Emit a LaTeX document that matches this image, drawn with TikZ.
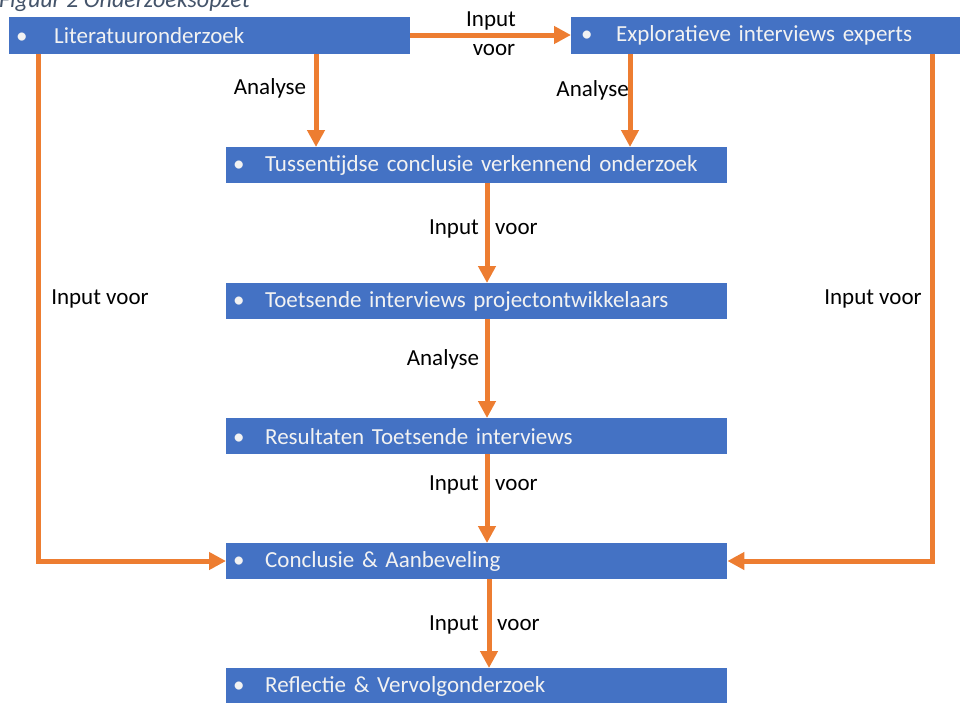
\documentclass[tikz,border=0pt]{standalone}
\usepackage{fontspec}
\setmainfont{Carlito}
\usetikzlibrary{arrows.meta}
\definecolor{boxblue}{HTML}{4472C4}
\definecolor{arrorange}{HTML}{ED7D31}
\definecolor{captgray}{HTML}{44546A}
\definecolor{boxtext}{HTML}{F2F2F2}
\tikzset{
  box/.style={fill=boxblue, draw=none, anchor=north west, inner ysep=0pt,
    text=boxtext, font=\fontsize{23}{26}\selectfont, align=left},
  flow/.style={draw=arrorange, line width=5pt,
    -{Triangle[length=17pt,width=17pt]}},
  lbl/.style={font=\fontsize{23}{26}\selectfont, text=black, inner sep=0pt},
}
\newcommand{\bul}[1]{\makebox[#1pt][l]{•}}
\begin{document}
\begin{tikzpicture}[x=1pt,y=-1pt]
\useasboundingbox (0,0) rectangle (960,702);
% caption (cut off at top)
\node[anchor=base west, inner sep=0pt, text=captgray,
  font=\fontsize{24}{28}\itshape\selectfont] (cap) at (-1,7) {Figuur 2 Onderzoeksopzet};
% boxes
\node[box, minimum height=37pt, inner xsep=7pt, text width=387pt] (b1) at (9,17)
  {\bul{38}Literatuuronderzoek};
\node[box, minimum height=37pt, inner xsep=10pt, text width=369pt] (b2) at (571,17)
  {\bul{35}Exploratieve interviews experts};
\node[box, minimum height=36pt, inner xsep=7pt, text width=487pt] (b3) at (226,147)
  {\bul{32}Tussentijdse conclusie verkennend onderzoek};
\node[box, minimum height=36pt, inner xsep=7pt, text width=487pt] (b4) at (226,283)
  {\bul{32}Toetsende interviews projectontwikkelaars};
\node[box, minimum height=36pt, inner xsep=7pt, text width=487pt] (b5) at (226,418)
  {\bul{32}Resultaten Toetsende interviews};
\node[box, minimum height=36pt, inner xsep=7pt, text width=487pt] (b6) at (226,543)
  {\bul{32}Conclusie \& Aanbeveling};
\node[box, minimum height=36pt, inner xsep=7pt, text width=487pt] (b7) at (226,668)
  {\bul{32}Reflectie \& Vervolgonderzoek};
% connectors
\draw[flow] (b1.east |- 0,35) -- (b2.west |- 0,35);
\draw[flow] (b1.south -| 316,0) -- (b3.north -| 316,0);
\draw[flow] (b2.south -| 630,0) -- (b3.north -| 630,0);
\draw[flow] (b3.south -| 487,0) -- (b4.north -| 487,0);
\draw[flow] (b4.south -| 487,0) -- (b5.north -| 487,0);
\draw[flow] (b5.south -| 487,0) -- (b6.north -| 487,0);
\draw[flow] (b6.south -| 489,0) -- (b7.north -| 489,0);
\draw[flow] (b1.south -| 38,0) -- (38,561) -- (b6.west |- 0,561);
\draw[flow] (b2.south -| 932,0) -- (932,561) -- (b6.east |- 0,561);
% labels
\node[lbl] (l1) at (491,21) {Input};
\node[lbl] (l2) at (494,50) {voor};
\node[lbl] (l3) at (270,88) {Analyse};
\node[lbl, anchor=east] (l4) at (629,90) {Analyse};
\node[lbl, anchor=east] (l5) at (479,229) {Input};
\node[lbl, anchor=west] (l6) at (495,229) {voor};
\node[lbl] (l7) at (443,359) {Analyse};
\node[lbl, anchor=east] (l8) at (479,485) {Input};
\node[lbl, anchor=west] (l9) at (495,485) {voor};
\node[lbl, anchor=east] (l10) at (479,625) {Input};
\node[lbl, anchor=west] (l11) at (497,625) {voor};
\node[lbl] (l12) at (100,299) {Input voor};
\node[lbl] (l13) at (873,299) {Input voor};
\end{tikzpicture}
\end{document}
